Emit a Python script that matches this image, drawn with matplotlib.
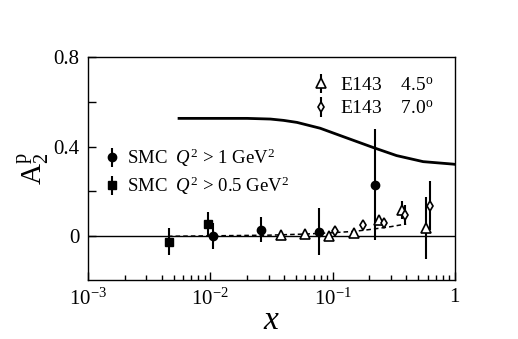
import matplotlib
matplotlib.use("Agg")
import matplotlib.pyplot as plt
from matplotlib.ticker import LogLocator, NullFormatter
import numpy as np

plt.rcParams['font.family'] = ['Liberation Serif', 'DejaVu Serif']
plt.rcParams['mathtext.fontset'] = 'custom'
plt.rcParams['mathtext.rm'] = 'Liberation Serif'
plt.rcParams['mathtext.it'] = 'Liberation Serif:italic'

# SMC Q^2 > 1 GeV^2
smc1_x = [0.0105, 0.0258, 0.078, 0.221]
smc1_y = [0.0, 0.03, 0.02, 0.23]
smc1_e = [0.058, 0.055, 0.105, 0.247]
# SMC Q^2 > 0.5 GeV^2
smc05_x = [0.00457, 0.0095]
smc05_y = [-0.025, 0.055]
smc05_e = [0.06, 0.055]
# E143 4.5 deg
e45_x = [0.0377, 0.060, 0.094, 0.151, 0.238, 0.371, 0.58]
e45_y = [0.007, 0.012, 0.0, 0.015, 0.074, 0.119, 0.037]
e45_e = [0.008, 0.008, 0.01, 0.012, 0.02, 0.04, 0.14]
# E143 7.0 deg
e70_x = [0.105, 0.179, 0.264, 0.393, 0.63]
e70_y = [0.024, 0.049, 0.059, 0.096, 0.136]
e70_e = [0.01, 0.012, 0.015, 0.045, 0.11]
# dashed curve
dash_x = [0.0045, 0.01, 0.03, 0.06, 0.1, 0.15, 0.2, 0.3, 0.4]
dash_y = [0.0, 0.002, 0.005, 0.01, 0.016, 0.022, 0.03, 0.043, 0.055]
# solid curve
sol_x = [0.00555, 0.01, 0.02, 0.031, 0.0398, 0.0512, 0.0792, 0.123, 0.215, 0.334, 0.551, 0.966, 1.0]
sol_y = [0.526, 0.526, 0.526, 0.523, 0.517, 0.508, 0.482, 0.444, 0.396, 0.360, 0.333, 0.322, 0.321]

fig = plt.figure(figsize=(5.18, 3.39), dpi=100)
ax = fig.add_axes([0.170, 0.174, 0.708, 0.658])

ax.axhline(0, color='black', lw=1.0)
ax.plot(dash_x, dash_y, ls='--', color='black', lw=1.1, dashes=(3, 2))
ax.plot(sol_x, sol_y, color='black', lw=2.0)

kw = dict(ls='none', ecolor='black', elinewidth=1.5, capsize=0)
h1 = ax.errorbar(smc1_x, smc1_y, yerr=smc1_e, fmt='o', color='black', ms=6, **kw)
h2 = ax.errorbar(smc05_x, smc05_y, yerr=smc05_e, fmt='s', color='black', ms=6, **kw)
h3 = ax.errorbar(e45_x, e45_y, yerr=e45_e, fmt='^', mfc='white', mec='black', mew=1.2, ms=7, **kw)
h4 = ax.errorbar(e70_x, e70_y, yerr=e70_e, fmt='d', mfc='white', mec='black', mew=1.2, ms=5, **kw)

ax.set_xscale('log')
ax.set_xlim(1e-3, 1)
ax.set_ylim(-0.195, 0.8)
ax.set_yticks([0, 0.2, 0.4, 0.6, 0.8])
ax.set_yticklabels(['0', '', '0.4', '', '0.8'])
ax.set_xticks([1e-3, 1e-2, 1e-1, 1])
ax.set_xticklabels(['10$^{\\mathrm{-3}}$', '10$^{\\mathrm{-2}}$', '10$^{\\mathrm{-1}}$', '1'])
ax.xaxis.set_minor_locator(LogLocator(base=10, subs=np.arange(2, 10), numticks=20))
ax.xaxis.set_minor_formatter(NullFormatter())
ax.tick_params(axis='both', direction='in', labelsize=15, length=6, width=1, top=False, right=False, pad=6)
ax.tick_params(axis='x', which='minor', direction='in', length=3.5, width=1, top=False)
for s in ax.spines.values():
    s.set_linewidth(1.0)

ax.set_xlabel('$x$', fontsize=24, labelpad=-3)
ax.set_ylabel('$\\mathrm{A}_2^{\\mathrm{p}}$', fontsize=21, labelpad=2)

leg1 = ax.legend([h3, h4], ['E143    4.5$^{\\mathrm{o}}$', 'E143    7.0$^{\\mathrm{o}}$'],
                 loc='upper right', bbox_to_anchor=(0.99, 0.99), frameon=False,
                 fontsize=14, handlelength=0.8, handletextpad=0.6, labelspacing=0.3)
ax.add_artist(leg1)
ax.legend([h1, h2], ['SMC  $Q^2$ > 1 GeV$^2$', 'SMC  $Q^2$ > 0.5 GeV$^2$'],
          loc='upper left', bbox_to_anchor=(0.0, 0.675), frameon=False,
          fontsize=13.5, handlelength=0.8, handletextpad=0.4, labelspacing=0.3)

fig.savefig('out.png', dpi=100)
